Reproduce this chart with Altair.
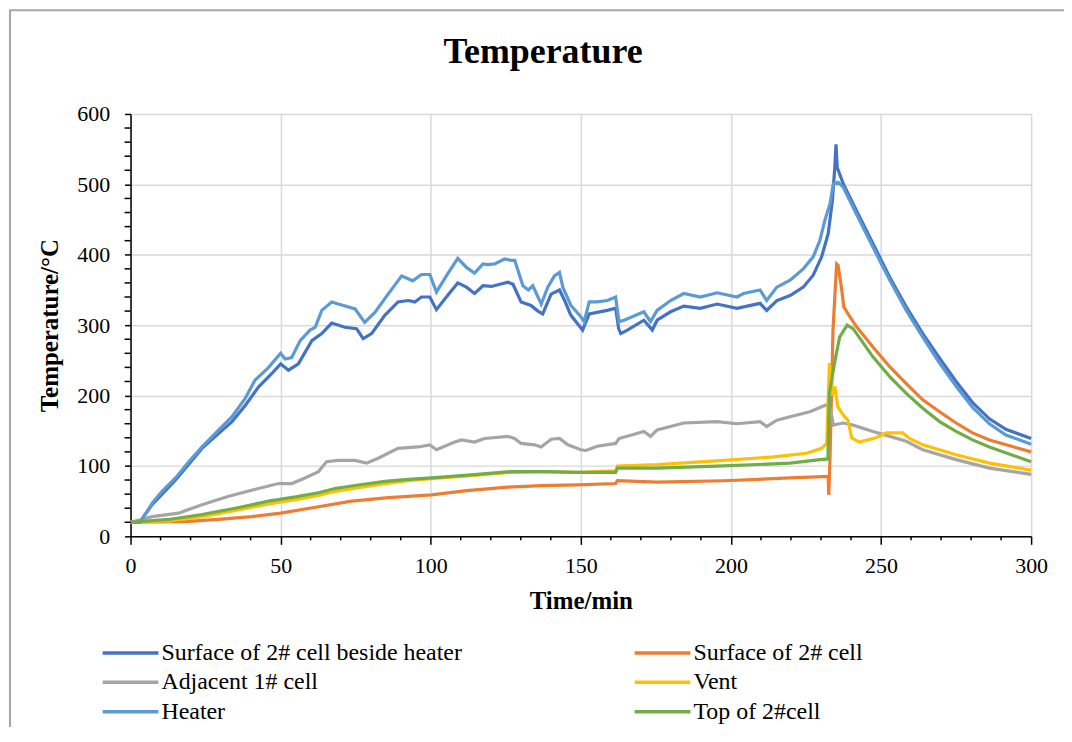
import altair as alt
import pandas as pd

SERIF = "Liberation Serif"

SERIES = ["Surface of 2# cell beside heater", "Surface of 2# cell", "Adjacent 1# cell",
          "Vent", "Heater", "Top of 2#cell"]
COLORS = ["#4472C4", "#ED7D31", "#A5A5A5", "#FFC000", "#5B9BD5", "#70AD47"]
# legend fills column by column: order entries so the rows read as in the original
LEGEND_ORDER = [0, 2, 4, 1, 3, 5]

beside_heater = [(0, 20), (3, 20), (7.2, 45), (15, 80), (23.8, 125), (29.3, 146), (33.8, 163),
                 (38.2, 186), (42.6, 212), (47, 231), (50, 245), (52.6, 236), (55.9, 245),
                 (60.4, 278), (63.7, 288), (67, 303), (71.4, 297), (75.3, 295), (77.5, 281),
                 (80.3, 288), (84.7, 314), (89.1, 333), (92.5, 335), (94.7, 333), (96.9, 340),
                 (99.7, 340), (101.9, 322), (105.2, 340), (109, 360), (111.9, 354), (114.6, 345),
                 (117.4, 356), (120.2, 355), (125.7, 361), (127.4, 358), (130.1, 333), (133.4, 328),
                 (135.7, 320), (137.3, 316), (140.1, 344), (142.9, 350), (144.6, 335), (146.7, 314),
                 (150.6, 293), (152.8, 316), (158.8, 321), (161.6, 324), (162.6, 295), (163.3, 288),
                 (165.5, 293), (171, 307), (173.8, 293), (175.4, 307), (179.9, 319), (184.3, 327),
                 (189.8, 324), (195.4, 330), (202, 324), (209.7, 331), (211.9, 321), (215.3, 335),
                 (219.7, 342), (224.1, 354), (227.4, 371), (230.2, 397), (232.4, 430), (233.8, 477),
                 (234.6, 524), (235, 557), (235.4, 524), (237.4, 501), (241.8, 463), (247.3, 416),
                 (250.1, 392), (252.9, 368), (258.4, 326), (263.9, 288), (269.5, 253), (275, 220),
                 (280.5, 190), (286.1, 167), (291.6, 152), (300, 139)]

surface_2 = [(0, 20), (18.3, 21), (29.3, 24), (40.4, 28), (50, 33), (62.6, 42), (73.6, 50),
             (86, 55), (100.2, 59), (112, 65), (125.7, 70), (137, 72), (149, 73), (161.6, 75),
             (162.2, 79), (175.4, 77), (197.6, 79), (219.7, 83), (232.4, 85), (232.6, 59),
             (233, 110), (234, 293), (235.2, 387), (235.7, 385), (236.8, 354), (237.6, 326),
             (239.6, 312), (241.8, 298), (247.3, 269), (252.9, 241), (258.4, 217), (263.9, 194),
             (269.5, 177), (275, 161), (280.5, 147), (286.1, 137), (300, 120)]

adjacent_1 = [(0, 20), (7.2, 28), (16, 33), (23.8, 45), (32.7, 57), (42.6, 68), (49.3, 75),
              (53.7, 75), (58.1, 83), (62.6, 92), (65.3, 106), (69.2, 108), (74.8, 108),
              (78.6, 104), (82.5, 111), (89.1, 125), (95.8, 127), (99.7, 130), (101.9, 123),
              (108, 134), (110.2, 137), (114.6, 134), (117.9, 139), (125.7, 142), (127.9, 139),
              (130.1, 132), (134.6, 130), (136.8, 127), (140.1, 138), (142.9, 139), (145.7, 130),
              (150, 123), (151.7, 122), (155.5, 128), (161.6, 132), (162.7, 139), (171, 149),
              (173.2, 142), (175.4, 151), (184.3, 161), (195.4, 163), (202, 160), (209.7, 163),
              (211.9, 156), (215.3, 165), (219.7, 170), (226.3, 177), (231.9, 187), (233.2, 180),
              (234.1, 158), (237.4, 161), (240.7, 158), (247.3, 149), (252.9, 142), (258.4, 135),
              (263.9, 123), (275, 109), (286.1, 97), (300, 88)]

vent = [(0, 20), (12.7, 22), (23.8, 28), (34.9, 37), (46, 46), (55, 52), (62.6, 58), (68.1, 64),
        (75.9, 69), (84.7, 75), (92.5, 79), (100.2, 82), (112.4, 86), (126.8, 91), (137.9, 92),
        (149, 91), (161.6, 93), (162.2, 100), (175.4, 102), (197.6, 108), (214.2, 113),
        (225.2, 118), (230.2, 125), (231.9, 132), (232.8, 246), (233.8, 200), (234.6, 213),
        (235.6, 184), (237.8, 170), (239, 165), (240.2, 140), (242.7, 134), (248.3, 140),
        (251.7, 147), (257.2, 147), (259.5, 139), (263.9, 130), (275, 116), (286.1, 104),
        (300, 94)]

heater = [(0, 20), (3.3, 20), (7.2, 47), (10.5, 64), (15, 83), (19.4, 106), (23.8, 127),
          (29.3, 151), (33.8, 170), (38.2, 196), (41.5, 222), (46, 240), (50, 260), (51.5, 252),
          (53.7, 254), (56.5, 278), (59.8, 293), (61.5, 297), (63.7, 321), (67, 333), (69.2, 330),
          (74.8, 323), (78, 304), (81.4, 318), (85.8, 344), (90.3, 370), (94, 363), (96.9, 372),
          (99.7, 372), (101.9, 347), (105.2, 370), (109, 395), (111.9, 382), (114.6, 374),
          (117.4, 387), (119, 386), (121.3, 387), (124.6, 394), (126.8, 392), (128, 392),
          (130.7, 356), (132.5, 350), (134, 356), (136.8, 330), (139, 354), (141.2, 370),
          (142.9, 375), (144, 354), (146.7, 328), (150, 312), (151.1, 305), (152.8, 333),
          (155.5, 333), (158.8, 335), (161.6, 340), (162.7, 305), (164.4, 307), (171, 319),
          (173.2, 305), (175.4, 321), (179.9, 335), (184.3, 345), (189.8, 340), (195.4, 346),
          (202, 340), (204.2, 345), (209.7, 350), (211.9, 335), (215.3, 354), (219.7, 364),
          (224.1, 380), (227.4, 397), (229.6, 420), (231.3, 449), (233, 472), (234.1, 501),
          (235.7, 503), (237.4, 496), (241.8, 458), (247.3, 411), (250.1, 387), (252.9, 364),
          (258.4, 321), (263.9, 283), (269.5, 246), (275, 213), (280.5, 183), (286.1, 160),
          (291.6, 144), (300, 131)]

top_2 = [(0, 20), (12.7, 24), (23.8, 31), (34.9, 40), (46, 50), (55, 56), (62.6, 62), (68.1, 68),
         (75.9, 73), (84.7, 78), (92.5, 81), (100.2, 83), (112.4, 87), (126.8, 92), (137.9, 92),
         (149, 91), (161.6, 91), (162.2, 97), (175.4, 97), (197.6, 100), (219.7, 104),
         (229.6, 109), (232.3, 110), (232.8, 204), (234.5, 246), (236.2, 283), (238.7, 300),
         (240.7, 295), (247.3, 255), (252.9, 227), (258.4, 203), (263.9, 182), (269.5, 163),
         (275, 149), (280.5, 137), (286.1, 127), (300, 106)]

X_MAJOR = list(range(0, 301, 50))
X_MINOR = [v for v in range(0, 301, 10) if v % 50]
Y_MAJOR = list(range(0, 601, 100))
Y_MINOR = [v for v in range(0, 601, 20) if v % 100]

rows = []
for name, pts in zip(SERIES, [beside_heater, surface_2, adjacent_1, vent, heater, top_2]):
    for t, v in pts:
        rows.append({"series": name, "t": t, "T": v})
df = pd.DataFrame(rows)

xs = alt.Scale(domain=[0, 300], nice=False, zero=False)
ys = alt.Scale(domain=[0, 600], nice=False, zero=False)

x_axis = alt.Axis(values=X_MAJOR, title="Time/min", titleFont=SERIF, titleFontSize=25,
                  titleFontWeight="bold", titleColor="#000", titleX=452, titleY=72,
                  titleBaseline="alphabetic", labelFont=SERIF, labelFontSize=22,
                  labelColor="#000", labelBaseline="alphabetic", labelPadding=28,
                  labelFlush=False, labelOverlap=False, tickSize=8, tickColor="#000",
                  tickWidth=1.5, domainColor="#000", domainWidth=1.5, grid=True,
                  gridColor="#d9d9d9", gridWidth=1.5, format="d")
y_axis = alt.Axis(values=Y_MAJOR, title="Temperature/°C", titleFont=SERIF, titleFontSize=25,
                  titleFontWeight="bold", titleColor="#000", titleAngle=270, titleX=-73,
                  titleY=212, titleBaseline="alphabetic", titleAlign="center",
                  labelFont=SERIF, labelFontSize=22, labelColor="#000", labelPadding=15,
                  labelOverlap=False, tickSize=6, tickColor="#000", tickWidth=1.5,
                  domainColor="#000", domainWidth=1.5, grid=True, gridColor="#d9d9d9",
                  gridWidth=1.5, format="d")

legend = alt.Legend(orient="none", legendX=-30, legendY=529, columns=2, columnPadding=171,
                    rowPadding=5.5, clipHeight=24, padding=0, title=None, symbolType="stroke",
                    symbolSize=3136, symbolStrokeWidth=3.5, labelFont=SERIF, labelFontSize=24,
                    labelColor="#000", labelOffset=1, labelLimit=800)

frame = alt.Chart(pd.DataFrame({"a": [0]})).mark_rect(
    fill="white", fillOpacity=0, stroke="#a6a6a6", strokeWidth=2
).encode(x=alt.value(-121), x2=alt.value(1000), y=alt.value(-104), y2=alt.value(700))

lines = alt.Chart(df).mark_line(strokeWidth=3.2).encode(
    x=alt.X("t:Q", scale=xs, axis=x_axis),
    y=alt.Y("T:Q", scale=ys, axis=y_axis),
    color=alt.Color("series:N",
                    scale=alt.Scale(domain=[SERIES[i] for i in LEGEND_ORDER],
                                    range=[COLORS[i] for i in LEGEND_ORDER]),
                    legend=legend),
)

x_minor = alt.Chart(pd.DataFrame({"t": X_MINOR})).mark_rule(color="#000", strokeWidth=1.5).encode(
    x=alt.X("t:Q", scale=xs, axis=x_axis), y=alt.value(424), y2=alt.value(428)
)
y_minor = alt.Chart(pd.DataFrame({"T": Y_MINOR})).mark_rule(color="#000", strokeWidth=1.5).encode(
    y=alt.Y("T:Q", scale=ys, axis=y_axis), x=alt.value(-6), x2=alt.value(0)
)

chart = alt.layer(frame, lines, x_minor, y_minor).properties(
    width=904, height=424,
    padding={"left": 123, "top": 105, "right": 33, "bottom": 190},
    autosize=alt.AutoSizeParams(type="none"),
    background="white",
    title=alt.TitleParams(text="Temperature", font=SERIF, fontSize=36, fontWeight="bold",
                          color="#000", anchor="middle", frame="group", dx=-38, offset=-90,
                          baseline="alphabetic"),
).configure_view(strokeWidth=0)

chart.save("out.html", embed_options={"renderer": "svg", "actions": False})
